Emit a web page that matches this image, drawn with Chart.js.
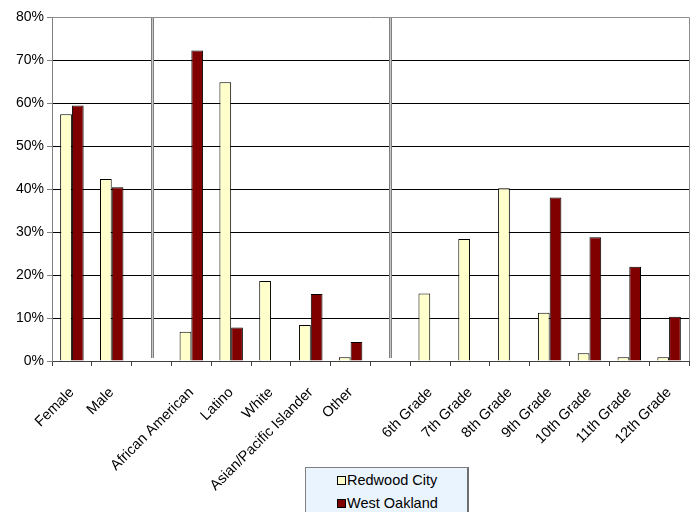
<!DOCTYPE html>
<html>
<head>
<meta charset="utf-8">
<script src="https://cdn.jsdelivr.net/npm/chart.js@4/dist/chart.umd.min.js"></script>
<style>
  body { margin: 0; background: #fff; }
  #wrap { position: relative; width: 694px; height: 512px; }
  #legend {
    position: absolute; left: 305px; top: 467px; width: 161px; height: 50px;
    background: #eaf4ff; border: 1px solid #7f7f7f; border-right: 2px solid #6f6f6f;
    font-family: "Liberation Sans", Arial, sans-serif; font-size: 14.5px; color: #000;
  }
  .item { position: absolute; left: 31px; height: 18px; line-height: 18px; }
  .sw { display: inline-block; width: 7px; height: 7px; border: 1px solid #000; margin-right: 1px; vertical-align: 0px; }
</style>
</head>
<body>
<div id="wrap">
  <canvas id="myChart" width="694" height="512"></canvas>
  <div id="legend">
    <div class="item" style="top:3px"><span class="sw" style="background:#ffffcc"></span>Redwood City</div>
    <div class="item" style="top:26px"><span class="sw" style="background:#800000"></span>West Oakland</div>
  </div>
</div>
<script>
// categories (blank ones hold the separators)
let categories = ["Female", "Male", "", "African American", "Latino", "White",
    "Asian/Pacific Islander", "Other", "", "6th Grade", "7th Grade", "8th Grade",
    "9th Grade", "10th Grade", "11th Grade", "12th Grade"];
let redwoodCity = [57.4, 42.3, null, 6.8, 64.8, 18.6, 8.4, 0.9, null, 15.7, 28.4, 40.2, 11.2, 1.8, 0.9, 0.9];
let westOakland = [59.4, 40.4, null, 72.2, 7.8, 0, 15.6, 4.4, null, 0, 0, 0, 38.0, 28.8, 21.9, 10.3];
let separators = [2, 8];

// double gray lines + plot border
let extras = {
    id: "extras",
    beforeDatasetsDraw(chart) {
        let ctx = chart.ctx;
        let a = chart.chartArea;
        let x = chart.scales.x;
        ctx.save();
        for (let s of separators) {
            let px = Math.round(x.getPixelForValue(s));
            ctx.fillStyle = "#7f7f7f";
            ctx.fillRect(px - 1, a.top, 3, a.bottom - a.top - 3);
            ctx.fillStyle = "#c8c8c8";
            ctx.fillRect(px, a.top, 1, a.bottom - a.top - 3);
        }
        ctx.strokeStyle = "#8c8c8c";
        ctx.lineWidth = 1;
        ctx.beginPath();
        ctx.moveTo(a.left, a.top + 0.5);
        ctx.lineTo(a.right + 0.5, a.top + 0.5);
        ctx.lineTo(a.right + 0.5, a.bottom);
        ctx.stroke();
        ctx.restore();
    }
};

let family = "'Liberation Sans', Arial, sans-serif";

let config = {
    type: "bar",
    data: {
        labels: categories,
        datasets: [
            { label: "Redwood City", data: redwoodCity, backgroundColor: "#ffffcc", borderColor: "#000", borderWidth: 1 },
            { label: "West Oakland", data: westOakland, backgroundColor: "#800000", borderColor: "#000", borderWidth: 1 }
        ]
    },
    options: {
        responsive: false,
        animation: false,
        layout: { padding: { top: 17, right: 5 } },
        datasets: { bar: { categoryPercentage: 0.59, barPercentage: 1.0 } },
        plugins: { legend: { display: false }, tooltip: { enabled: false } },
        scales: {
            x: {
                afterFit(scale) {
                    scale.height = 151;
                    scale.paddingLeft = 0;
                    scale.paddingRight = 0;
                },
                grid: { offset: true, drawOnChartArea: false, drawTicks: true, tickLength: 5, color: "#404040" },
                border: { color: "#404040" },
                ticks: { color: "#000", font: { family: family, size: 14.5 }, minRotation: 45, maxRotation: 45, autoSkip: false, padding: 18 }
            },
            y: {
                min: 0, max: 80,
                afterFit(scale) { scale.width = 52; },
                grid: {
                    color: ctx => ctx.tick && ctx.tick.value === 80 ? "rgba(0,0,0,0)" : "#000",
                    tickColor: "#808080", tickLength: 5
                },
                border: { color: "#808080" },
                ticks: { stepSize: 10, color: "#000", font: { family: family, size: 14 }, padding: 3, callback: v => v + "%" }
            }
        }
    },
    plugins: [extras]
};

let myChart = new Chart(document.getElementById("myChart"), config);
</script>
</body>
</html>
